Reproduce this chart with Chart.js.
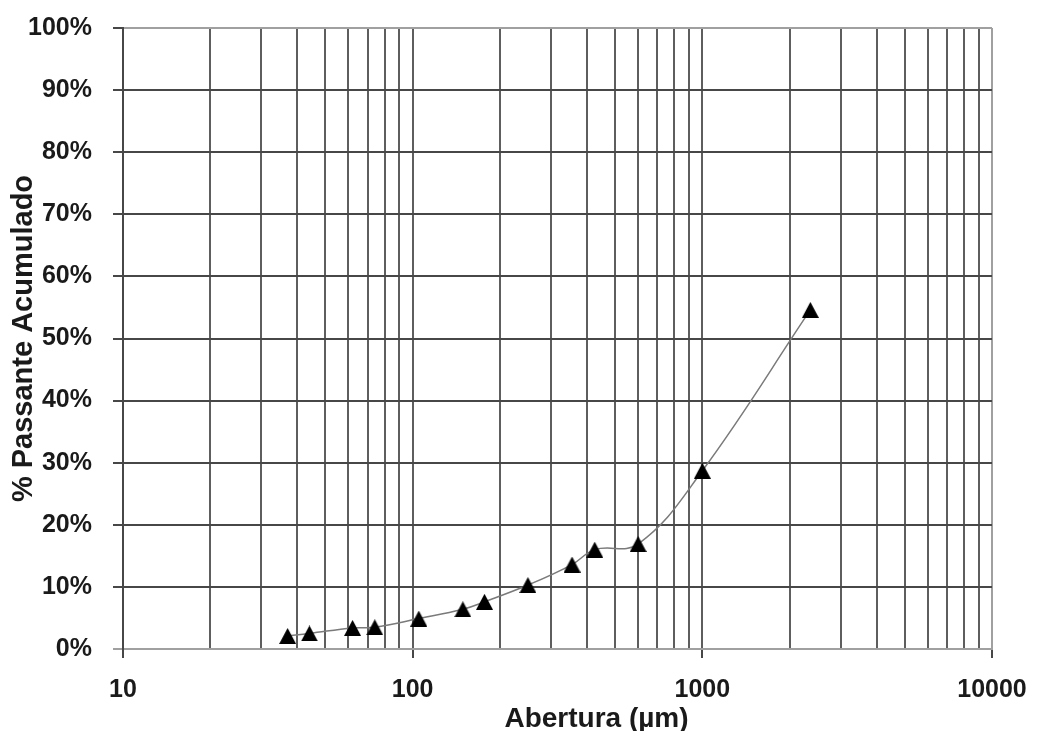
<!DOCTYPE html>
<html>
<head>
<meta charset="utf-8">
<script src="https://cdn.jsdelivr.net/npm/chart.js@4"></script>
<style>
  html, body { margin: 0; padding: 0; background: #fff; }
  #curva { display: block; }
</style>
</head>
<body>
<canvas id="curva" width="1037" height="731"></canvas>
<script>
// abertura das peneiras (µm) e % passante acumulado
const aberturas = [37, 44, 62, 74, 105, 149, 177, 250, 355, 425, 600, 1000, 2360];
const passante = [2.1, 2.5, 3.4, 3.5, 4.9, 6.4, 7.6, 10.3, 13.6, 16.0, 16.9, 28.7, 54.6];

// linhas verticais da grade (escala log) e as que levam rotulo
const gradeX = [10, 20, 30, 40, 50, 60, 70, 80, 90,
                100, 200, 300, 400, 500, 600, 700, 800, 900,
                1000, 2000, 3000, 4000, 5000, 6000, 7000, 8000, 9000, 10000];
const rotulosX = [10, 100, 1000, 10000];

const tituloX = 'Abertura (µm)';
const tituloY = '% Passante Acumulado';

const fonte = 'Liberation Sans, Arial, sans-serif';
const linhaEscura = '#474747';
const linhaVertical = '#5e5e5e';
const linhaClara = '#a0a0a0';

// marcador triangular centrado no proprio retangulo (estilo planilha)
function marcadorTriangulo(w, h) {
    const c = document.createElement('canvas');
    c.width = w;
    c.height = h;
    const g = c.getContext('2d');
    g.fillStyle = '#000';
    g.beginPath();
    g.moveTo(w / 2, 0);
    g.lineTo(w, h);
    g.lineTo(0, h);
    g.closePath();
    g.fill();
    return c;
}

// titulo do eixo x, um pouco deslocado para a direita do centro
const tituloEixoX = {
    id: 'tituloEixoX',
    afterDraw(chart) {
        const { ctx, chartArea } = chart;
        ctx.save();
        ctx.font = 'bold 28px ' + fonte;
        ctx.fillStyle = '#1a1a1a';
        ctx.textAlign = 'center';
        ctx.textBaseline = 'middle';
        const cx = (chartArea.left + chartArea.right) / 2 + 39;
        ctx.fillText(tituloX, cx, chartArea.bottom + 70);
        ctx.restore();
    }
};

new Chart(document.querySelector('#curva').getContext('2d'), {
    type: 'line',
    data: {
        datasets: [{
            data: aberturas.map((a, i) => ({ x: a, y: passante[i] })),
            borderColor: '#7a7a7a',
            borderWidth: 1.5,
            tension: 0.4,
            pointStyle: marcadorTriangulo(17, 16),
            pointRadius: 9
        }]
    },
    options: {
        responsive: false,
        animation: false,
        devicePixelRatio: 1,
        layout: { padding: { top: 28, right: 45, bottom: 0, left: 0 } },
        plugins: {
            legend: { display: false },
            tooltip: { enabled: false }
        },
        scales: {
            x: {
                type: 'logarithmic',
                min: 10,
                max: 10000,
                afterBuildTicks: scale => {
                    scale.ticks = gradeX.map(v => ({ value: v }));
                },
                afterFit: scale => {
                    scale.height = 82;
                    scale.paddingLeft = 0;
                    scale.paddingRight = 0;
                },
                ticks: {
                    autoSkip: false,
                    maxRotation: 0,
                    padding: 17,
                    color: '#1a1a1a',
                    font: { family: fonte, size: 25, weight: 'bold' },
                    callback: v => rotulosX.includes(v) ? String(v) : ''
                },
                grid: {
                    lineWidth: 2,
                    tickLength: 9,
                    color: c => c.tick && c.tick.value === 10000 ? linhaClara : linhaVertical,
                    tickColor: c => c.tick && rotulosX.includes(c.tick.value) ? linhaEscura : 'rgba(0,0,0,0)'
                },
                border: { color: linhaClara, width: 2 }
            },
            y: {
                min: 0,
                max: 100,
                afterFit: scale => {
                    scale.width = 123;
                    scale.paddingTop = 0;
                    scale.paddingBottom = 0;
                },
                ticks: {
                    stepSize: 10,
                    padding: 21,
                    color: '#1a1a1a',
                    font: { family: fonte, size: 25, weight: 'bold' },
                    callback: v => v + '%'
                },
                grid: {
                    lineWidth: 2,
                    tickLength: 10,
                    color: c => c.tick && (c.tick.value === 0 || c.tick.value === 100) ? linhaClara : linhaEscura,
                    tickColor: c => c.tick && c.tick.value === 0 ? linhaClara : linhaEscura
                },
                border: { color: linhaEscura, width: 2 },
                title: {
                    display: true,
                    text: tituloY,
                    color: '#1a1a1a',
                    padding: { top: 7, bottom: 0 },
                    font: { family: fonte, size: 29, weight: 'bold' }
                }
            }
        }
    },
    plugins: [tituloEixoX]
});
</script>
</body>
</html>
